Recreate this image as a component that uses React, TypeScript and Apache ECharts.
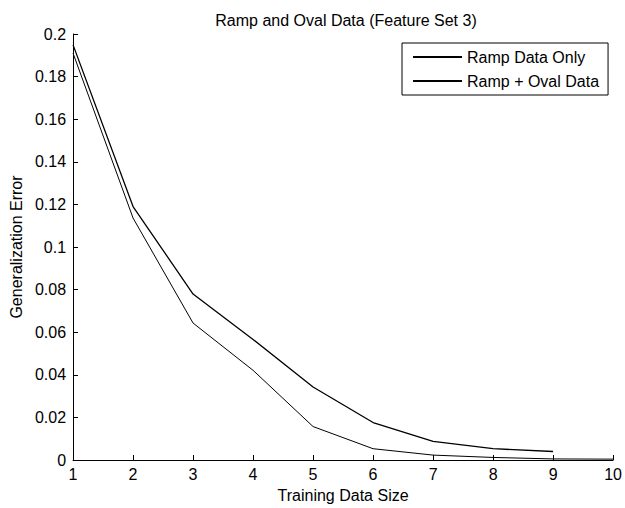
import React, { useEffect, useRef } from "react";
import * as echarts from "echarts";

const titleText = "Ramp and Oval Data (Feature Set 3)";
const xName = "Training Data Size";
const yName = "Generalization Error";
const trainingSizes = [1, 2, 3, 4, 5, 6, 7, 8, 9, 10];
const rampOnlyName = "Ramp Data Only";
const rampOvalName = "Ramp + Oval Data";
const rampOnly = [0.1949, 0.119, 0.0779, 0.0566, 0.0343, 0.0176, 0.0087, 0.0053, 0.004];
const rampOval = [0.191, 0.1136, 0.0643, 0.0421, 0.0157, 0.0053, 0.0023, 0.0012, 0.0005, 0.0004];

const font = "'Liberation Sans', Arial, sans-serif";

export default function App() {
  const ref = useRef<HTMLDivElement>(null);
  useEffect(() => {
    if (!ref.current) return;
    const chart = echarts.init(ref.current, null, { renderer: "svg" });
    chart.setOption({
      animation: false,
      backgroundColor: "#ffffff",
      textStyle: { fontFamily: font },
      title: {
        text: titleText,
        left: 341,
        top: 7,
        textAlign: "center",
        textStyle: { fontSize: 16, fontWeight: "normal", color: "#000", fontFamily: font },
      },
      grid: { left: 72, right: 9, top: 34, bottom: 45, containLabel: false },
      legend: {
        orient: "vertical",
        left: 402,
        top: 43,
        padding: [6, 9, 6, 10],
        borderColor: "#000",
        borderWidth: 1,
        itemWidth: 49,
        itemHeight: 14,
        itemGap: 8,
        itemStyle: { opacity: 0 },
        textStyle: { fontSize: 16, color: "#000", fontFamily: font, lineHeight: 16 },
        data: [rampOnlyName, rampOvalName],
      },
      xAxis: {
        type: "value",
        min: 1,
        max: 10,
        interval: 1,
        name: xName,
        nameLocation: "middle",
        nameGap: 27,
        nameTextStyle: { fontSize: 16, color: "#000", fontFamily: font },
        axisLine: { show: true, onZero: false, lineStyle: { color: "#000", width: 1 } },
        axisTick: { show: true, inside: true, length: 5, lineStyle: { color: "#000" } },
        axisLabel: { fontSize: 16, color: "#000", margin: 6, fontFamily: font },
        splitLine: { show: false },
      },
      yAxis: {
        type: "value",
        min: 0,
        max: 0.2,
        interval: 0.02,
        name: yName,
        nameLocation: "middle",
        nameGap: 49,
        nameTextStyle: { fontSize: 16, color: "#000", fontFamily: font },
        axisLine: { show: true, lineStyle: { color: "#000", width: 1 } },
        axisTick: { show: true, inside: true, length: 5, lineStyle: { color: "#000" } },
        axisLabel: {
          fontSize: 16,
          color: "#000",
          margin: 7,
          fontFamily: font,
          formatter: (v: number) => String(Math.round(v * 100) / 100),
        },
        splitLine: { show: false },
      },
      series: [
        {
          name: rampOnlyName,
          type: "line",
          data: rampOnly.map((v, i) => [trainingSizes[i], v]),
          symbol: "none",
          lineStyle: { color: "#000", width: 1.3 },
          itemStyle: { color: "#000" },
        },
        {
          name: rampOvalName,
          type: "line",
          data: rampOval.map((v, i) => [trainingSizes[i], v]),
          symbol: "none",
          lineStyle: { color: "#000", width: 1 },
          itemStyle: { color: "#000" },
        },
      ],
    });
    return () => chart.dispose();
  }, []);
  return (
    <div
      ref={ref}
      style={{ position: "fixed", left: 0, top: 0, width: 625, height: 508, background: "#fff" }}
    />
  );
}
